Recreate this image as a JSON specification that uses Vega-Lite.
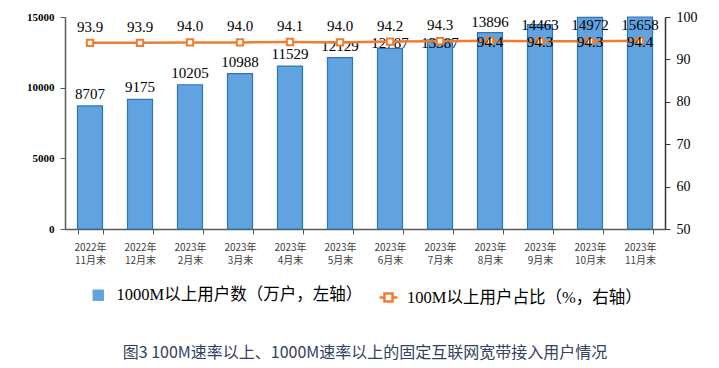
{
  "$schema": "https://vega.github.io/schema/vega-lite/v6.json",
  "autosize": {"type": "none"},
  "width": 600,
  "height": 212,
  "padding": {"left": 65, "top": 17, "right": 54, "bottom": 139},
  "background": "white",
  "title": {
    "text": "图3 100M速率以上、1000M速率以上的固定互联网宽带接入用户情况",
    "orient": "bottom",
    "anchor": "middle",
    "frame": "group",
    "offset": 38,
    "baseline": "top",
    "font": "Noto Sans CJK SC",
    "fontSize": 16,
    "fontWeight": "normal",
    "color": "#33405e"
  },
  "config": {
    "view": {"stroke": null},
    "axis": {"grid": false, "title": null}
  },
  "data": {
    "values": [
      {"m": "2022年11月末", "users": 8707, "pct": 93.9},
      {"m": "2022年12月末", "users": 9175, "pct": 93.9},
      {"m": "2023年2月末", "users": 10205, "pct": 94.0},
      {"m": "2023年3月末", "users": 10988, "pct": 94.0},
      {"m": "2023年4月末", "users": 11529, "pct": 94.1},
      {"m": "2023年5月末", "users": 12129, "pct": 94.0},
      {"m": "2023年6月末", "users": 12787, "pct": 94.2},
      {"m": "2023年7月末", "users": 13387, "pct": 94.3},
      {"m": "2023年8月末", "users": 13896, "pct": 94.4},
      {"m": "2023年9月末", "users": 14463, "pct": 94.3},
      {"m": "2023年10月末", "users": 14972, "pct": 94.3},
      {"m": "2023年11月末", "users": 15658, "pct": 94.4}
    ]
  },
  "encoding": {
    "x": {
      "field": "m",
      "type": "nominal",
      "sort": null,
      "scale": {"paddingInner": 0.5, "paddingOuter": 0.25},
      "axis": {
        "labelAngle": 0,
        "labelExpr": "[slice(datum.label,0,5), slice(datum.label,5)]",
        "labelFont": "Noto Sans CJK SC",
        "labelFontSize": 10,
        "labelColor": "#404040",
        "labelLineHeight": 13.5,
        "labelPadding": 8,
        "tickBand": "extent",
        "tickSize": 5,
        "tickColor": "#595959",
        "domainColor": "#595959",
        "domainWidth": 1.5,
        "tickWidth": 1
      }
    }
  },
  "layer": [
    {
      "layer": [
        {
          "mark": {"type": "bar", "stroke": "#2e75b6", "strokeWidth": 1.2},
          "encoding": {
            "y": {
              "field": "users",
              "type": "quantitative",
              "scale": {"domain": [0, 15000], "clamp": true, "nice": false},
              "axis": {
                "orient": "left",
                "values": [0, 5000, 10000, 15000],
                "format": "d",
                "labelFont": "Liberation Serif",
                "labelFontSize": 11,
                "labelFontWeight": "bold",
                "labelColor": "#000000",
                "labelPadding": 6,
                "tickSize": 5,
                "tickColor": "#595959",
                "domainColor": "#595959",
                "domainWidth": 1.5
              }
            },
            "fill": {
              "datum": "1000M以上用户数（万户，左轴）",
              "scale": {"range": ["#60a3e0"]},
              "legend": {
                "orient": "none",
                "legendX": 25,
                "legendY": 270,
                "title": null,
                "padding": 0,
                "symbolType": "square",
                "symbolSize": 130,
                "symbolStrokeWidth": 0,
                "labelOffset": 10,
                "labelLimit": 0,
                "labelFont": "Liberation Serif, Noto Sans CJK SC",
                "labelFontSize": 16.5,
                "labelColor": "#000000"
              }
            }
          }
        },
        {
          "transform": [{"filter": "datum.users < 12500"}],
          "mark": {"type": "text", "baseline": "bottom", "dy": -4, "font": "Liberation Serif", "fontSize": 15, "color": "#000000"},
          "encoding": {
            "y": {"field": "users", "type": "quantitative"},
            "text": {"field": "users", "type": "quantitative", "format": "d"}
          }
        },
        {
          "transform": [{"filter": "datum.users >= 12500 && datum.users < 13500"}],
          "mark": {"type": "text", "baseline": "middle", "font": "Liberation Serif", "fontSize": 15, "color": "#000000"},
          "encoding": {
            "y": {"datum": 13150, "type": "quantitative"},
            "text": {"field": "users", "type": "quantitative", "format": "d"}
          }
        },
        {
          "transform": [{"filter": "datum.users >= 13500 && datum.users < 14000"}],
          "mark": {"type": "text", "baseline": "bottom", "dy": -3, "font": "Liberation Serif", "fontSize": 15, "color": "#000000"},
          "encoding": {
            "y": {"field": "users", "type": "quantitative"},
            "text": {"field": "users", "type": "quantitative", "format": "d"}
          }
        },
        {
          "transform": [{"filter": "datum.users >= 14000"}],
          "mark": {"type": "text", "baseline": "top", "dy": 1, "font": "Liberation Serif", "fontSize": 15, "color": "#000000"},
          "encoding": {
            "y": {"datum": 15000, "type": "quantitative"},
            "text": {"field": "users", "type": "quantitative", "format": "d"}
          }
        }
      ]
    },
    {
      "layer": [
        {
          "mark": {"type": "line", "strokeWidth": 2.5},
          "encoding": {
            "y": {
              "field": "pct",
              "type": "quantitative",
              "scale": {"domain": [50, 100], "nice": false},
              "axis": {
                "orient": "right",
                "values": [50, 60, 70, 80, 90, 100],
                "labelFont": "Liberation Serif",
                "labelFontSize": 14,
                "labelColor": "#000000",
                "labelPadding": 6,
                "tickSize": 5,
                "tickColor": "#333333",
                "domainColor": "#333333",
                "domainWidth": 1.5
              }
            },
            "stroke": {
              "datum": "100M以上用户占比（%，右轴）",
              "scale": {"range": ["#ed7d31"]},
              "legend": {
                "orient": "none",
                "legendX": 313,
                "legendY": 270,
                "title": null,
                "padding": 0,
                "symbolType": "M-1,0H-0.45M0.45,0H1M-0.45,-0.45H0.45V0.45H-0.45Z",
                "symbolSize": 324,
                "symbolStrokeWidth": 2.5,
                "symbolFillColor": "white",
                "labelOffset": 8,
                "labelLimit": 0,
                "labelFont": "Liberation Serif, Noto Sans CJK SC",
                "labelFontSize": 16.5,
                "labelColor": "#000000"
              }
            }
          }
        },
        {
          "mark": {"type": "point", "shape": "square", "size": 40, "filled": true, "fill": "white", "stroke": "#ed7d31", "strokeWidth": 2, "opacity": 1},
          "encoding": {
            "y": {"field": "pct", "type": "quantitative"}
          }
        },
        {
          "transform": [{"filter": "datum.users < 12500"}],
          "mark": {"type": "text", "baseline": "bottom", "dy": -8, "font": "Liberation Serif", "fontSize": 15, "color": "#000000"},
          "encoding": {
            "y": {"field": "pct", "type": "quantitative"},
            "text": {"field": "pct", "type": "quantitative", "format": ".1f"}
          }
        },
        {
          "transform": [{"filter": "datum.users >= 12500 && datum.users < 13500"}],
          "mark": {"type": "text", "baseline": "bottom", "dy": -8, "font": "Liberation Serif", "fontSize": 15, "color": "#000000"},
          "encoding": {
            "y": {"field": "pct", "type": "quantitative"},
            "text": {"field": "pct", "type": "quantitative", "format": ".1f"}
          }
        },
        {
          "transform": [{"filter": "datum.users >= 13500"}],
          "mark": {"type": "text", "baseline": "middle", "dy": 1, "font": "Liberation Serif", "fontSize": 15, "color": "#000000"},
          "encoding": {
            "y": {"field": "pct", "type": "quantitative"},
            "text": {"field": "pct", "type": "quantitative", "format": ".1f"}
          }
        }
      ]
    }
  ],
  "resolve": {"scale": {"y": "independent"}}
}
